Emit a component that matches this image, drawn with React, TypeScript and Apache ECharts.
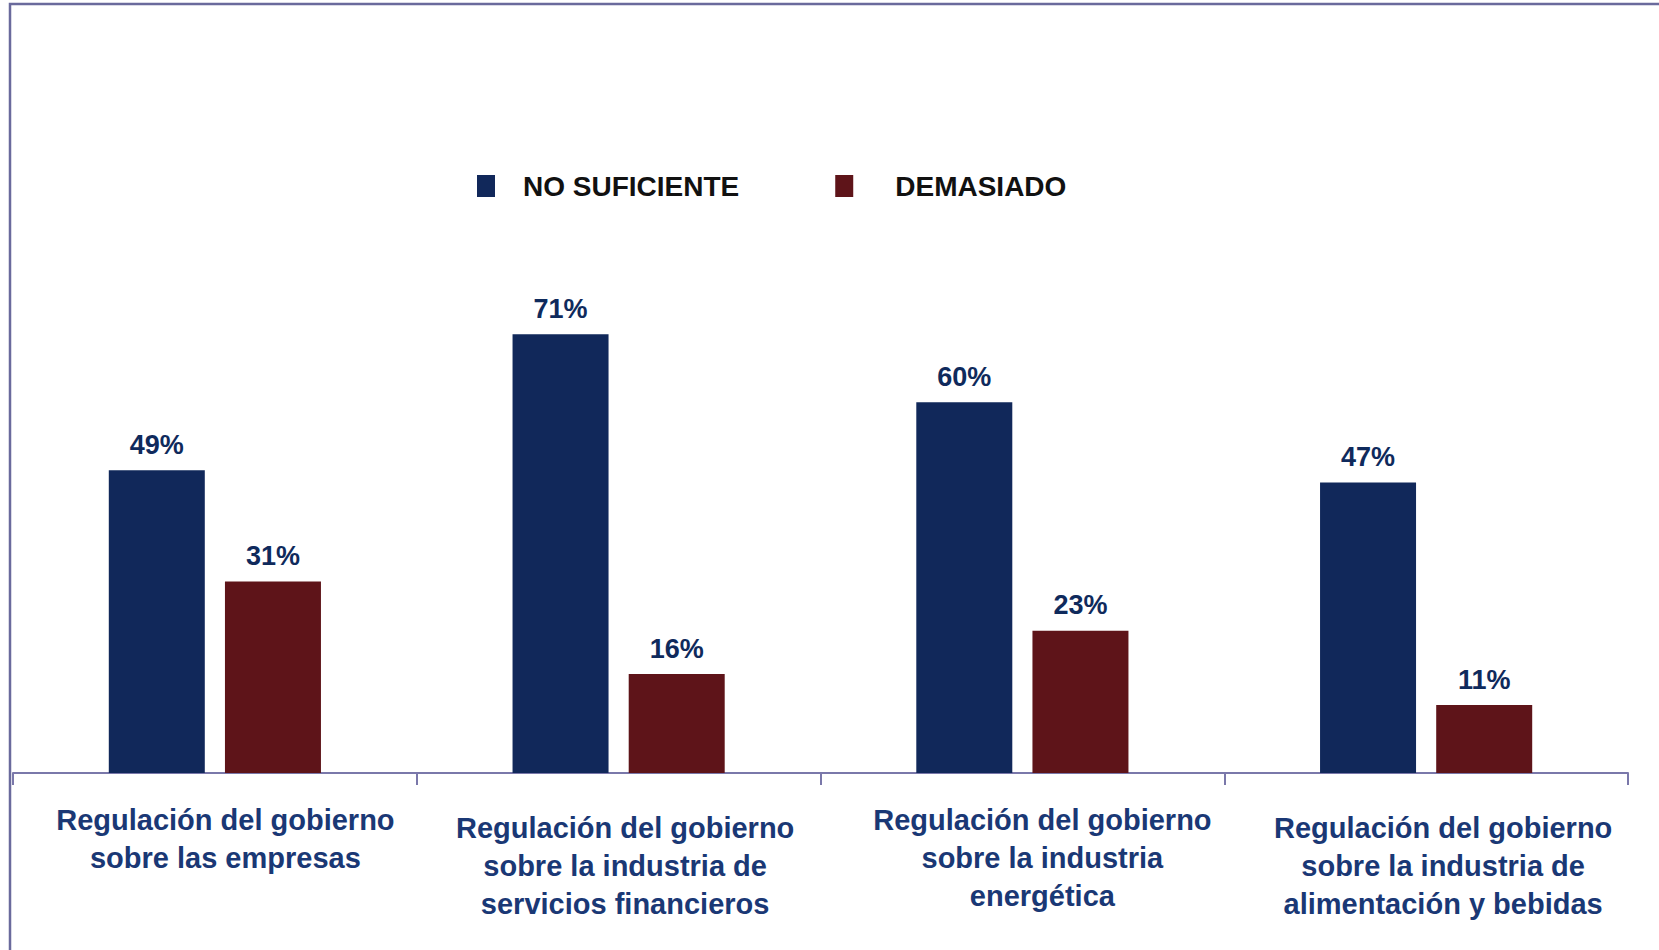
import React, { useEffect, useRef } from "react";
import * as echarts from "echarts";

const categories = [
  "Regulación del gobierno\nsobre las empresas",
  "Regulación del gobierno\nsobre la industria de\nservicios financieros",
  "Regulación del gobierno\nsobre la industria\nenergética",
  "Regulación del gobierno\nsobre la industria de\nalimentación y bebidas",
];
const noSuficiente = [49, 71, 60, 47];
const demasiado = [31, 16, 23, 11];
const seriesNames = ["NO SUFICIENTE", "DEMASIADO"];

const FONT = "'Liberation Sans Narrow', 'Arial Narrow', 'Liberation Sans', sans-serif";
const NAVY = "#11285a";
const RED = "#5e1419";
const labelPads = [
  [0, 0, 0, 21],
  [8, 0, 0, 13],
  [0, 0, 0, 40],
  [8, 0, 0, 34],
];

export default function App() {
  const ref = useRef<HTMLDivElement>(null);
  useEffect(() => {
    document.body.style.margin = "0";
    const chart = echarts.init(ref.current!, null, { renderer: "svg" });
    const valueLabel = {
      show: true,
      position: "top",
      distance: 12,
      formatter: "{c}%",
      color: "#0f2a5c",
      fontFamily: FONT,
      fontWeight: "bold",
      fontSize: 27,
    };
    const legendText = {
      fontFamily: FONT,
      fontWeight: "bold",
      fontSize: 28,
      color: "#111111",
    };
    chart.setOption({
      animation: false,
      backgroundColor: "#ffffff",
      graphic: [
        {
          type: "rect",
          shape: { x: 10, y: 4, width: 2000, height: 2000 },
          style: { fill: "none", stroke: "#6a6a9c", lineWidth: 2.5 },
          silent: true,
        },
      ],
      legend: {
        left: 472,
        top: 167,
        itemWidth: 18,
        itemHeight: 22,
        itemGap: 96,
        icon: "rect",
        formatter: (name: string) =>
          name === seriesNames[1] ? `{d|${name}}` : `{n|${name}}`,
        textStyle: {
          ...legendText,
          rich: {
            n: { ...legendText, padding: [0, 0, 0, 23] },
            d: { ...legendText, padding: [0, 0, 0, 37] },
          },
        },
        data: seriesNames,
      },
      grid: { left: 13, right: 31, top: 155, bottom: 177, containLabel: false },
      xAxis: {
        type: "category",
        data: categories.map((c, i) => ({
          value: c,
          textStyle: { padding: labelPads[i] },
        })),
        axisLine: { lineStyle: { color: "#7a78aa", width: 2 } },
        axisTick: { show: true, length: 12, lineStyle: { color: "#7a78aa", width: 2 } },
        axisLabel: {
          interval: 0,
          margin: 28,
          fontFamily: FONT,
          fontWeight: "bold",
          fontSize: 29,
          lineHeight: 38,
          color: "#1a3875",
          align: "center",
        },
      },
      yAxis: {
        type: "value",
        min: 0,
        max: 100,
        show: false,
        splitLine: { show: false },
      },
      series: [
        {
          name: seriesNames[0],
          type: "bar",
          data: noSuficiente,
          barWidth: 96,
          barGap: "21%",
          itemStyle: { color: NAVY },
          label: valueLabel,
        },
        {
          name: seriesNames[1],
          type: "bar",
          data: demasiado,
          barWidth: 96,
          itemStyle: { color: RED },
          label: valueLabel,
        },
      ],
    });
    return () => chart.dispose();
  }, []);
  return (
    <div
      ref={ref}
      style={{ position: "fixed", left: 0, top: 0, width: 1659, height: 950 }}
    />
  );
}
